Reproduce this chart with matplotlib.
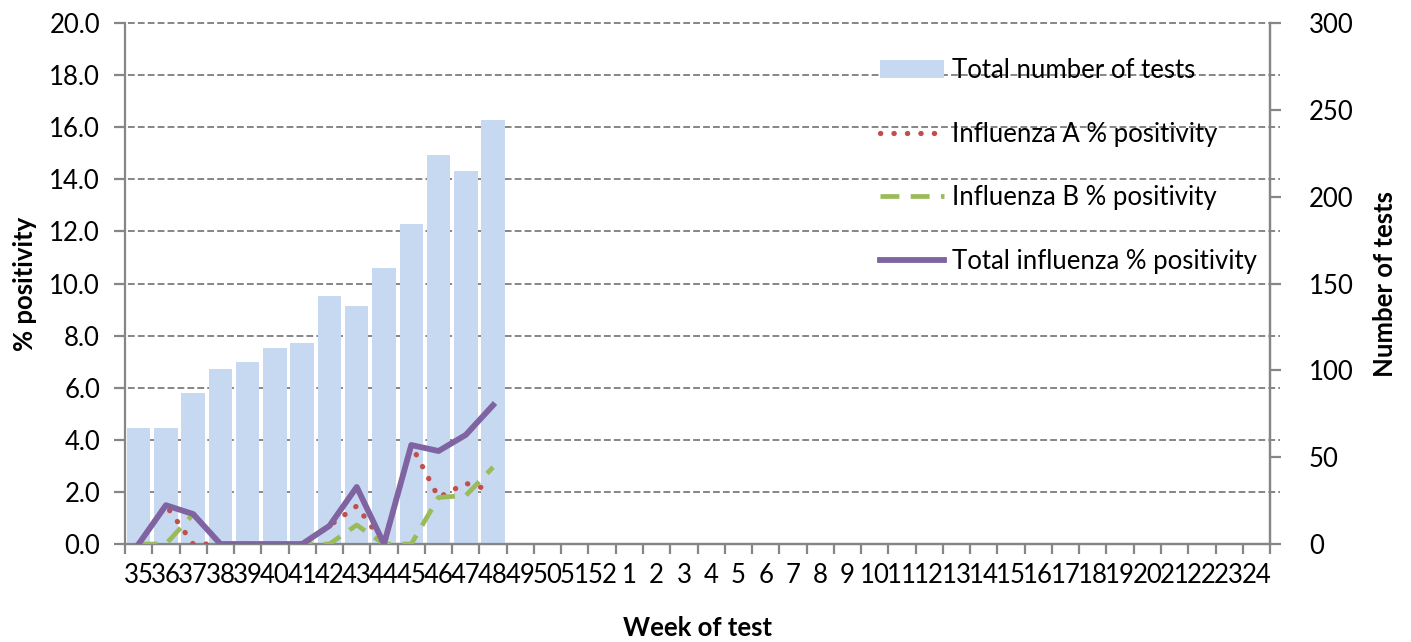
import numpy as np
import matplotlib
matplotlib.use('Agg')
from matplotlib import pyplot as plt
from matplotlib.patches import Patch
from matplotlib.lines import Line2D

plt.rcParams['font.family'] = ['Lato', 'DejaVu Sans']

# week labels (season runs week 35 to week 24)
weeks = [str(w) for w in range(35, 53)] + [str(w) for w in range(1, 25)]

# data only reported up to week 48
tests = [67, 67, 87, 101, 105, 113, 116, 143, 137, 159, 184, 224, 215, 244]
flu_a = [0, 1.49, 0, 0, 0, 0, 0, 0.70, 1.46, 0, 3.80, 1.79, 2.33, 2.05]
flu_b = [0, 0, 1.15, 0, 0, 0, 0, 0, 0.73, 0, 0, 1.79, 1.86, 2.95]
flu_total = [0, 1.49, 1.15, 0, 0, 0, 0, 0.70, 2.19, 0, 3.80, 3.57, 4.19, 5.33]

grey = '#868686'
fs = 18.5

x = np.arange(len(weeks))
xd = x[:len(tests)]

fig = plt.figure(figsize=(14.11, 6.42), dpi=100)
ax = fig.add_axes([0.0886, 0.1526, 0.8115, 0.8116])
axb = ax.twinx()   # bars, right hand scale
axl = ax.twinx()   # lines, same scale as left axis

# gridlines on the bottom axis so bars cover them
ax.set_ylim(0, 20)
ax.set_yticks(np.arange(0, 20.1, 2))
ax.set_yticklabels(['%.1f' % v for v in np.arange(0, 20.1, 2)])
for v in np.arange(2, 20.1, 2):
    ax.axhline(v, color=grey, lw=1.4, ls=(0, (3.5, 1.6)), xmin=-0.006, xmax=1.009, clip_on=False, zorder=0)

axb.bar(xd, tests, width=0.86, color='#C6D9F1', zorder=2)
axb.set_ylim(0, 300)
axb.set_yticks(np.arange(0, 301, 50))

a_style = dict(color='#C0504D', lw=3.8, ls=(0, (0.05, 2.5)), dash_capstyle='round')
b_style = dict(color='#9BBB59', lw=3.4, ls=(0, (4.0, 2.4)))
t_style = dict(color='#8064A2', lw=4.2)

axl.plot(xd, flu_a, zorder=3, **a_style)
axl.plot(xd, flu_b, zorder=3, **b_style)
axl.plot(xd, flu_total, zorder=4, **t_style)
axl.set_ylim(0, 20)
axl.set_yticks([])

for a in (ax, axb, axl):
    a.set_xlim(-0.5, len(weeks) - 0.5)
    a.spines['top'].set_visible(False)
    for s in ('left', 'right', 'bottom'):
        a.spines[s].set_color(grey)
        a.spines[s].set_linewidth(1.6)
axl.spines['left'].set_visible(False)
axl.spines['right'].set_visible(False)
axl.spines['bottom'].set_visible(False)
axb.spines['left'].set_visible(False)

# x ticks at category boundaries, labels at centres
ax.set_xticks(np.arange(-0.5, len(weeks), 1))
ax.set_xticklabels([])
ax.set_xticks(x, minor=True)
ax.set_xticklabels(weeks, minor=True)
ax.tick_params(axis='x', which='major', length=7, width=1.6, color=grey)
ax.tick_params(axis='x', which='minor', length=0, labelsize=fs, pad=14)
ax.tick_params(axis='y', length=8, width=1.6, color=grey, labelsize=fs, pad=10)
axb.tick_params(axis='y', length=8, width=1.6, color=grey, labelsize=fs, pad=20)

ax.set_ylabel('% positivity', fontsize=fs, fontweight='bold', va='center')
ax.yaxis.set_label_coords(-0.087, 0.5)
axb.set_ylabel('Number of tests', fontsize=fs, fontweight='bold', va='center')
axb.yaxis.set_label_coords(1.1, 0.5)
ax.set_xlabel('Week of test', fontsize=fs, fontweight='bold', va='center')
ax.xaxis.set_label_coords(0.5, -0.161)

handles = [
    Patch(facecolor='#C6D9F1'),
    Line2D([], [], **a_style),
    Line2D([], [], **b_style),
    Line2D([], [], **t_style),
]
labels = ['Total number of tests', 'Influenza A % positivity',
          'Influenza B % positivity', 'Total influenza % positivity']
leg = axl.legend(handles, labels, loc='upper left', bbox_to_anchor=(0.65, 0.952),
                 frameon=False, fontsize=fs, handlelength=2.5, handletextpad=0.3,
                 labelspacing=1.5, borderaxespad=0)
leg.set_zorder(10)

fig.savefig('out.png', dpi=100)
